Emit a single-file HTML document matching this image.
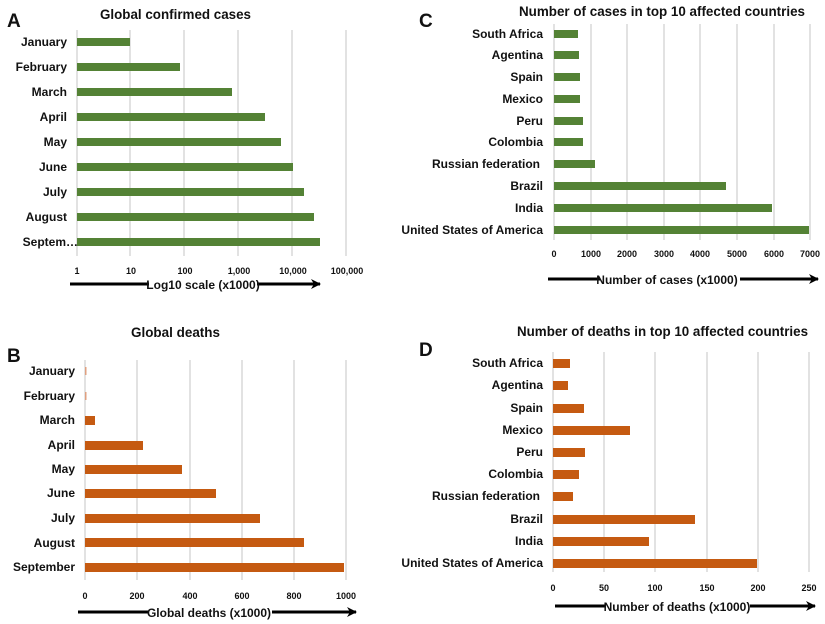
<!DOCTYPE html>
<html><head><meta charset="utf-8"><style>
html,body{margin:0;padding:0;background:#fff;}
svg{display:block;font-family:"Liberation Sans",Arial,sans-serif;font-weight:bold;}
.l{font-size:12px;text-anchor:end;fill:#111;}
.t{font-size:9px;text-anchor:middle;fill:#111;}
.h{font-size:14px;fill:#111;}
.p{font-size:19px;fill:#111;}
.g{stroke:#d3d3d3;stroke-width:1.3;}
.ax{font-size:12px;text-anchor:middle;fill:#111;}
</style></head><body>
<svg width="825" height="624" viewBox="0 0 825 624" xmlns="http://www.w3.org/2000/svg">
<defs><marker id="ar" markerWidth="10" markerHeight="10" refX="9" refY="5" orient="auto" markerUnits="userSpaceOnUse"><path d="M0,0 L10,5 L0,10 L3,5z" fill="#000"/></marker></defs>

<!-- Panel A -->
<text class="p" x="7" y="27">A</text>
<text class="h" x="100" y="19" textLength="151" lengthAdjust="spacingAndGlyphs">Global confirmed cases</text>
<g class="g"><line x1="77" y1="30" x2="77" y2="256"/><line x1="130" y1="30" x2="130" y2="256"/><line x1="184" y1="30" x2="184" y2="256"/><line x1="238" y1="30" x2="238" y2="256"/><line x1="292" y1="30" x2="292" y2="256"/><line x1="346" y1="30" x2="346" y2="256"/></g>
<g fill="#548235">
<rect x="77" y="38" width="53" height="8"/><rect x="77" y="63" width="103" height="8"/><rect x="77" y="88" width="155" height="8"/><rect x="77" y="113" width="188" height="8"/><rect x="77" y="138" width="204" height="8"/><rect x="77" y="163" width="216" height="8"/><rect x="77" y="188" width="227" height="8"/><rect x="77" y="213" width="237" height="8"/><rect x="77" y="238" width="243" height="8"/></g>
<g class="l"><text x="67" y="46">January</text><text x="67" y="71">February</text><text x="67" y="96">March</text><text x="67" y="121">April</text><text x="67" y="146">May</text><text x="67" y="171">June</text><text x="67" y="196">July</text><text x="67" y="221">August</text><text x="78" y="246">Septem…</text></g>
<g class="t"><text x="77" y="274">1</text><text x="131" y="274">10</text><text x="185" y="274">100</text><text x="239" y="274">1,000</text><text x="293" y="274">10,000</text><text x="347" y="274">100,000</text></g>
<line x1="70" y1="284" x2="320" y2="284" stroke="#000" stroke-width="3" marker-end="url(#ar)"/>
<rect x="149" y="277" width="108" height="14" fill="#fff"/>
<text class="ax" x="203" y="289">Log10 scale (x1000)</text>

<!-- Panel B -->
<text class="p" x="7" y="362">B</text>
<text class="h" x="131" y="337" textLength="89" lengthAdjust="spacingAndGlyphs">Global deaths</text>
<g class="g"><line x1="85" y1="360" x2="85" y2="580"/><line x1="137" y1="360" x2="137" y2="580"/><line x1="190" y1="360" x2="190" y2="580"/><line x1="242" y1="360" x2="242" y2="580"/><line x1="294" y1="360" x2="294" y2="580"/><line x1="346" y1="360" x2="346" y2="580"/></g>
<g fill="#c55a11">
<rect x="85" y="367" width="1.5" height="8" fill="#e0a080"/><rect x="85" y="392" width="1.5" height="8" fill="#e0a080"/><rect x="85" y="416" width="10" height="9"/><rect x="85" y="441" width="58" height="9"/><rect x="85" y="465" width="97" height="9"/><rect x="85" y="489" width="131" height="9"/><rect x="85" y="514" width="175" height="9"/><rect x="85" y="538" width="219" height="9"/><rect x="85" y="563" width="259" height="9"/></g>
<g class="l"><text x="75" y="375">January</text><text x="75" y="400">February</text><text x="75" y="424">March</text><text x="75" y="449">April</text><text x="75" y="473">May</text><text x="75" y="497">June</text><text x="75" y="522">July</text><text x="75" y="547">August</text><text x="75" y="571">September</text></g>
<g class="t"><text x="85" y="599">0</text><text x="137" y="599">200</text><text x="190" y="599">400</text><text x="242" y="599">600</text><text x="294" y="599">800</text><text x="346" y="599">1000</text></g>
<line x1="78" y1="612" x2="356" y2="612" stroke="#000" stroke-width="3" marker-end="url(#ar)"/>
<rect x="148" y="605" width="124" height="14" fill="#fff"/>
<text class="ax" x="209" y="617">Global deaths (x1000)</text>

<!-- Panel C -->
<text class="p" x="419" y="27">C</text>
<text class="h" x="519" y="16" textLength="286" lengthAdjust="spacingAndGlyphs">Number of cases in top 10 affected countries</text>
<g class="g"><line x1="554" y1="24" x2="554" y2="240"/><line x1="591" y1="24" x2="591" y2="240"/><line x1="627" y1="24" x2="627" y2="240"/><line x1="664" y1="24" x2="664" y2="240"/><line x1="700" y1="24" x2="700" y2="240"/><line x1="737" y1="24" x2="737" y2="240"/><line x1="774" y1="24" x2="774" y2="240"/><line x1="810" y1="24" x2="810" y2="240"/></g>
<g fill="#548235">
<rect x="554" y="30" width="24" height="8"/><rect x="554" y="51" width="25" height="8"/><rect x="554" y="73" width="26" height="8"/><rect x="554" y="95" width="26" height="8"/><rect x="554" y="117" width="29" height="8"/><rect x="554" y="138" width="29" height="8"/><rect x="554" y="160" width="41" height="8"/><rect x="554" y="182" width="172" height="8"/><rect x="554" y="204" width="218" height="8"/><rect x="554" y="226" width="255" height="8"/></g>
<g class="l"><text x="543" y="38">South Africa</text><text x="543" y="59">Agentina</text><text x="543" y="81">Spain</text><text x="543" y="103">Mexico</text><text x="543" y="125">Peru</text><text x="543" y="146">Colombia</text><text x="540" y="168">Russian federation</text><text x="543" y="190">Brazil</text><text x="543" y="212">India</text><text x="543" y="234">United States of America</text></g>
<g class="t"><text x="554" y="257">0</text><text x="591" y="257">1000</text><text x="627" y="257">2000</text><text x="664" y="257">3000</text><text x="700" y="257">4000</text><text x="737" y="257">5000</text><text x="774" y="257">6000</text><text x="810" y="257">7000</text></g>
<line x1="548" y1="279" x2="818" y2="279" stroke="#000" stroke-width="3" marker-end="url(#ar)"/>
<rect x="600" y="272" width="140" height="14" fill="#fff"/>
<text class="ax" x="667" y="284">Number of cases (x1000)</text>

<!-- Panel D -->
<text class="p" x="419" y="356">D</text>
<text class="h" x="517" y="336" textLength="291" lengthAdjust="spacingAndGlyphs">Number of deaths in top 10 affected countries</text>
<g class="g"><line x1="553" y1="352" x2="553" y2="572"/><line x1="604" y1="352" x2="604" y2="572"/><line x1="655" y1="352" x2="655" y2="572"/><line x1="707" y1="352" x2="707" y2="572"/><line x1="758" y1="352" x2="758" y2="572"/><line x1="809" y1="352" x2="809" y2="572"/></g>
<g fill="#c55a11">
<rect x="553" y="359" width="17" height="9"/><rect x="553" y="381" width="15" height="9"/><rect x="553" y="404" width="31" height="9"/><rect x="553" y="426" width="77" height="9"/><rect x="553" y="448" width="32" height="9"/><rect x="553" y="470" width="26" height="9"/><rect x="553" y="492" width="20" height="9"/><rect x="553" y="515" width="142" height="9"/><rect x="553" y="537" width="96" height="9"/><rect x="553" y="559" width="204" height="9"/></g>
<g class="l"><text x="543" y="367">South Africa</text><text x="543" y="389">Agentina</text><text x="543" y="412">Spain</text><text x="543" y="434">Mexico</text><text x="543" y="456">Peru</text><text x="543" y="478">Colombia</text><text x="540" y="500">Russian federation</text><text x="543" y="523">Brazil</text><text x="543" y="545">India</text><text x="543" y="567">United States of America</text></g>
<g class="t"><text x="553" y="591">0</text><text x="604" y="591">50</text><text x="655" y="591">100</text><text x="707" y="591">150</text><text x="758" y="591">200</text><text x="809" y="591">250</text></g>
<line x1="555" y1="606" x2="815" y2="606" stroke="#000" stroke-width="3" marker-end="url(#ar)"/>
<rect x="606" y="599" width="144" height="14" fill="#fff"/>
<text class="ax" x="677" y="611">Number of deaths (x1000)</text>
</svg>
</body></html>
